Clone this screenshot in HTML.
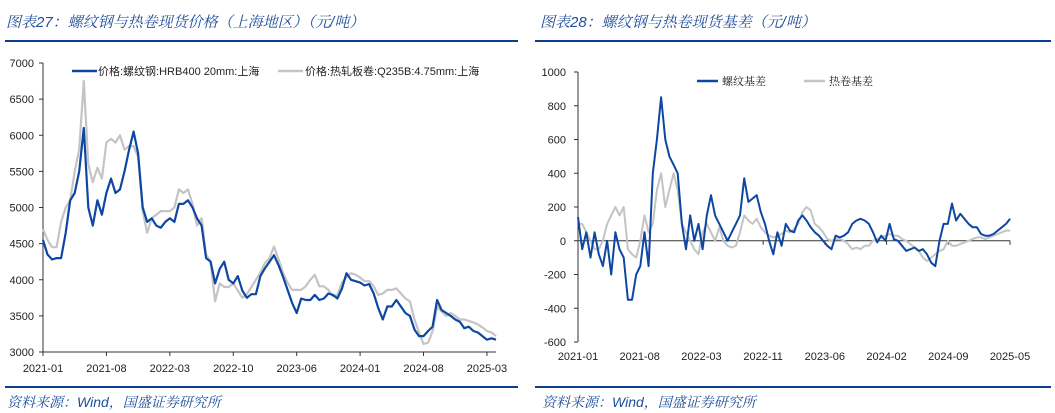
<!DOCTYPE html>
<html><head><meta charset="utf-8">
<style>
body{margin:0;background:#fff;width:1055px;height:413px;overflow:hidden;position:relative;font-family:"Liberation Sans","Noto Sans CJK SC",sans-serif}
.t{position:absolute;font-style:italic;color:#1f4e9a;font-size:15px;font-family:"Liberation Sans","Noto Serif CJK SC",serif;white-space:nowrap}
.s{position:absolute;font-style:italic;color:#1f4e9a;font-size:14px;font-family:"Liberation Sans","Noto Serif CJK SC",serif;white-space:nowrap}
.r{position:absolute;height:2px;background:#0b3d91}
.r2{position:absolute;height:2px;background:#0b3d91;border-top:1px solid #c8d4ea}
svg{position:absolute;left:0;top:0}
</style></head><body>
<div class="t" style="left:6px;top:11px">图表27：螺纹钢与热卷现货价格（上海地区）（元/吨）</div>
<div class="t" style="left:540px;top:11px">图表28：螺纹钢与热卷现货基差（元/吨）</div>
<div class="r" style="left:5px;top:40px;width:513px"></div>
<div class="r" style="left:535px;top:40px;width:516px"></div>
<div class="r" style="left:5px;top:386px;width:513px"></div>
<div class="r" style="left:535px;top:386px;width:516px"></div>
<div class="s" style="left:7px;top:392px">资料来源：Wind，国盛证券研究所</div>
<div class="s" style="left:542px;top:392px">资料来源：Wind，国盛证券研究所</div>
<svg id="c" width="1055" height="413"></svg>
<script>
// Left chart data (half-month steps from 2021-01)
const priceTicks=[3000,3500,4000,4500,5000,5500,6000,6500,7000];
const priceXLabels=["2021-01","2021-08","2022-03","2022-10","2023-06","2024-01","2024-08","2025-03"];
const rebarPrice=[4550,4350,4280,4300,4300,4650,5100,5200,5500,6100,5000,4750,5100,4900,5200,5400,5200,5250,5500,5800,6050,5750,5000,4800,4850,4750,4720,4800,4850,4800,5050,5050,5100,5000,4850,4750,4300,4250,3950,4150,4250,4000,3950,4050,3850,3750,3800,3800,4050,4160,4250,4340,4200,4040,3860,3680,3540,3740,3720,3720,3790,3720,3740,3810,3790,3740,3880,4090,4000,3980,3960,3920,3940,3810,3610,3450,3630,3630,3720,3630,3540,3500,3310,3220,3220,3290,3350,3720,3580,3540,3500,3450,3420,3330,3350,3290,3270,3220,3170,3190,3170];
const hrcPrice=[4700,4550,4450,4450,4800,5000,5100,5500,5800,6750,5600,5350,5550,5400,5900,5950,5900,6000,5800,5850,5850,5700,4950,4650,4850,4900,4950,4950,4950,5000,5250,5200,5250,5050,4750,4850,4350,4250,3700,3950,3900,3900,3950,3850,3750,3800,3900,4000,4100,4230,4300,4460,4280,4090,3960,3860,3860,3860,3910,4000,4070,3910,3910,3860,3770,3790,3960,4040,4090,4070,4030,3980,3980,3910,3790,3810,3860,3860,3880,3810,3740,3700,3450,3270,3110,3130,3290,3630,3560,3500,3540,3500,3450,3450,3430,3410,3380,3340,3290,3270,3220];
// Right chart data (half-month steps from 2021-01)
const basisTicks=[-600,-400,-200,0,200,400,600,800,1000];
const basisXLabels=["2021-01","2021-08","2022-03","2022-11","2023-06","2024-02","2024-09","2025-05"];
const rebarBasis=[140,-50,50,-100,50,-80,-150,0,-200,50,-50,-100,-350,-350,-200,-150,50,-150,400,600,850,600,500,450,400,100,-50,150,0,100,-50,150,270,150,100,50,0,50,100,150,370,230,250,270,170,100,0,-80,50,-30,100,60,50,120,150,120,80,50,30,0,-30,-50,30,20,30,50,100,120,130,120,100,50,-10,30,0,100,10,0,-30,-60,-50,-40,-60,-50,-80,-130,-150,0,100,100,220,120,160,130,100,80,80,40,30,30,40,60,80,100,130];
const hrcBasis=[100,100,50,0,-50,-50,0,100,150,200,150,200,-50,-80,-100,0,150,50,100,300,400,200,300,400,300,100,50,0,-50,-80,50,100,50,0,80,0,-30,-40,-30,50,150,120,100,130,80,50,30,20,30,40,60,50,70,100,170,200,180,100,80,50,10,0,10,10,0,-20,-50,-40,-50,-30,-30,0,10,20,30,40,30,30,10,0,-20,-40,-60,-100,-120,-100,-80,-60,-50,0,-30,-30,-20,-10,0,10,20,20,10,20,30,40,50,60,60];

const svg=document.getElementById('c');const NS='http://www.w3.org/2000/svg';
function mk(tag,attrs,name){const e=document.createElementNS(NS,tag);for(const k in attrs)e.setAttribute(k,attrs[k]);


svg.appendChild(e);return e;}
const font='"Liberation Sans","DejaVu Sans",sans-serif';

// Left axes
const L={x0:43,xPerMonth:9.06,yTop:63,yBot:352,vMin:3000,vMax:7000};
const lx=m=>L.x0+m*L.xPerMonth;
const ly=v=>L.yBot-(v-L.vMin)/(L.vMax-L.vMin)*(L.yBot-L.yTop);
mk('line',{x1:43,y1:63,x2:43,y2:352,stroke:'#333','stroke-width':1},'left-y-axis');
mk('line',{x1:43,y1:352,x2:496,y2:352,stroke:'#333','stroke-width':1},'left-x-axis');
priceTicks.forEach(v=>{mk('line',{x1:39,y1:ly(v),x2:43,y2:ly(v),stroke:'#333'},'left-y-tick');
const t=mk('text',{x:34,y:ly(v)+4,'text-anchor':'end','font-size':11,'font-family':font,fill:'#222'},'left-y-tick-label');t.textContent=v;});
priceXLabels.forEach((s,i)=>{const x=lx(i*7);mk('line',{x1:x,y1:352,x2:x,y2:356,stroke:'#333'},'left-x-tick');
const t=mk('text',{x:x,y:372,'text-anchor':'middle','font-size':11,'font-family':font,fill:'#222'},'left-x-tick-label');t.textContent=s;});
function path(arr,fx,fy,color,w,name){let d='';arr.forEach((v,i)=>{d+=(i?'L':'M')+fx(i*0.5).toFixed(1)+','+fy(v).toFixed(1);});
mk('path',{d:d,fill:'none',stroke:color,'stroke-width':w,'stroke-linejoin':'round'},name);}
path(hrcPrice,lx,ly,'#c4c4c4',2.2,'hrc-price-line');
path(rebarPrice,lx,ly,'#0d47a1',2.2,'rebar-price-line');
mk('line',{x1:72,y1:71,x2:97,y2:71,stroke:'#0d47a1','stroke-width':2.5},'legend-rebar-swatch');
let t=mk('text',{x:98,y:75,'font-size':11,'font-family':'"Liberation Sans","Noto Sans CJK SC",sans-serif',fill:'#222'},'legend-rebar-label');t.textContent='价格:螺纹钢:HRB400 20mm:上海';
mk('line',{x1:278,y1:71,x2:303,y2:71,stroke:'#c4c4c4','stroke-width':2.5},'legend-hrc-swatch');
t=mk('text',{x:305,y:75,'font-size':11,'font-family':'"Liberation Sans","Noto Sans CJK SC",sans-serif',fill:'#222'},'legend-hrc-label');t.textContent='价格:热轧板卷:Q235B:4.75mm:上海';

// Right axes
const R={x0:578,xPerMonth:8.31,yTop:72,yBot:342,vMin:-600,vMax:1000};
const rx=m=>R.x0+m*R.xPerMonth;
const ry=v=>R.yBot-(v-R.vMin)/(R.vMax-R.vMin)*(R.yBot-R.yTop);
mk('line',{x1:578,y1:72,x2:578,y2:342,stroke:'#333'},'right-y-axis');
mk('line',{x1:578,y1:ry(0),x2:1010,y2:ry(0),stroke:'#333'},'right-x-axis');
basisTicks.forEach(v=>{mk('line',{x1:574,y1:ry(v),x2:578,y2:ry(v),stroke:'#333'},'right-y-tick');
const t=mk('text',{x:566,y:ry(v)+4,'text-anchor':'end','font-size':11,'font-family':font,fill:'#222'},'right-y-tick-label');t.textContent=v;});
basisXLabels.forEach((s,i)=>{const x=578+i*(432/7);mk('line',{x1:x,y1:ry(0),x2:x,y2:ry(0)+4,stroke:'#333'},'right-x-tick');
const t=mk('text',{x:x,y:360,'text-anchor':'middle','font-size':11,'font-family':font,fill:'#222'},'right-x-tick-label');t.textContent=s;});
path(hrcBasis,rx,ry,'#c4c4c4',2,'hrc-basis-line');
path(rebarBasis,rx,ry,'#0d47a1',2,'rebar-basis-line');
mk('line',{x1:697,y1:81,x2:718,y2:81,stroke:'#0d47a1','stroke-width':2.5},'legend-rebar-basis-swatch');
t=mk('text',{x:722,y:85,'font-size':11,'font-family':'"Liberation Sans","Noto Serif CJK SC",serif',fill:'#222'},'legend-rebar-basis-label');t.textContent='螺纹基差';
mk('line',{x1:804,y1:81,x2:825,y2:81,stroke:'#c4c4c4','stroke-width':2.5},'legend-hrc-basis-swatch');
t=mk('text',{x:829,y:85,'font-size':11,'font-family':'"Liberation Sans","Noto Serif CJK SC",serif',fill:'#222'},'legend-hrc-basis-label');t.textContent='热卷基差';
</script>
</body></html>
